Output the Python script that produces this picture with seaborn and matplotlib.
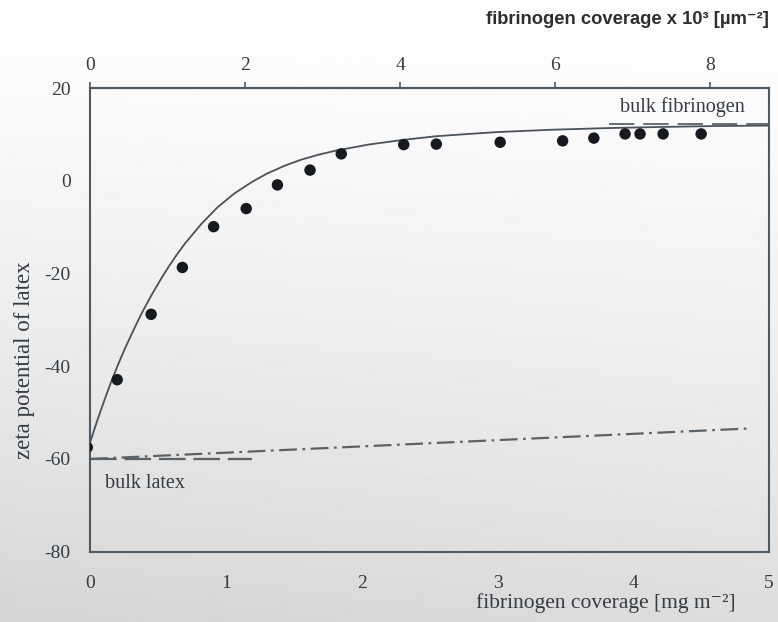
import numpy as np
import pandas as pd
import matplotlib
matplotlib.use('Agg')
import matplotlib.pyplot as plt
import seaborn as sns

sns.set_style('white')
plt.rcParams['font.family'] = ['Liberation Serif', 'DejaVu Serif']
plt.rcParams['axes.unicode_minus'] = False

# measured points: coverage [mg m-2] vs zeta potential [mV]
cov_pts = [-0.02, 0.20, 0.45, 0.68, 0.91, 1.15, 1.38, 1.62, 1.85, 2.31, 2.55,
           3.02, 3.48, 3.71, 3.94, 4.05, 4.22, 4.50]
zeta_pts = [-57.5, -42.9, -28.8, -18.7, -9.9, -6.0, -0.9, 2.3, 5.8, 7.8, 7.9,
            8.3, 8.6, 9.2, 10.1, 10.1, 10.1, 10.1]

# theoretical curve
cov_fit = [0.0, 0.05, 0.10, 0.15, 0.21, 0.26, 0.33, 0.38, 0.45, 0.52, 0.58,
           0.64, 0.70, 0.82, 0.94, 1.06, 1.19, 1.30, 1.43, 1.55, 1.68, 1.81,
           2.05, 2.30, 2.55, 2.79, 3.00, 3.40, 3.80, 4.20, 4.60, 5.0]
zeta_fit = [-56.5, -52.0, -47.8, -43.8, -39.4, -36.0, -31.6, -28.6, -24.8, -21.3,
            -18.5, -15.9, -13.5, -9.3, -5.7, -2.8, -0.3, 1.5, 3.2, 4.5, 5.6, 6.5,
            7.8, 8.8, 9.6, 10.1, 10.5, 11.0, 11.35, 11.6, 11.8, 11.9]

# bulk reference lines
latex_x = [0.0, 1.19]
latex_y = [-60.0, -60.0]
latex_trend_x = [0.0, 4.87]
latex_trend_y = [-60.0, -53.4]
fib_x = [3.82, 5.0]
fib_y = [12.2, 12.2]

xticks = [0, 1, 2, 3, 4, 5]
yticks = [-80, -60, -40, -20, 0, 20]
top_ticks = [0, 2, 4, 6, 8]
top_factor = 8 / 4.568   # 10^3 um^-2 per mg m^-2

pts = pd.DataFrame({'cov': cov_pts, 'zeta': zeta_pts})
fit = pd.DataFrame({'cov': cov_fit, 'zeta': zeta_fit})

fig = plt.figure(figsize=(7.78, 6.22), dpi=100)

# gradient background
bg = fig.add_axes([0, 0, 1, 1], zorder=-10)
gy = np.linspace(0, 1, 256)[:, None]
gx = np.linspace(0, 1, 256)[None, :]
grad = 0.995 - 0.16 * gy ** 1.3 + 0.03 * gx * gy
bg.imshow(grad, cmap='gray', vmin=0, vmax=1, aspect='auto', extent=[0, 1, 0, 1],
          origin='upper')
bg.axis('off')

ax = fig.add_axes([0.1157, 0.113, 0.8728, 0.7455])
ax.set_facecolor('none')

axis_col = '#4f5963'
text_col = '#343c44'

sns.lineplot(data=fit, x='cov', y='zeta', ax=ax, sort=False, estimator=None,
             color='#4a525a', lw=1.3)
sns.scatterplot(data=pts, x='cov', y='zeta', ax=ax, color='#161a1e', s=68,
                edgecolor='none', zorder=5)
ax.plot(latex_x, latex_y, color='#5a6268', lw=1.6, dashes=(12, 3.5))
ax.plot(latex_trend_x, latex_trend_y, color='#5a6268', lw=1.6,
        dashes=(8, 2.5, 1.2, 2.5))
ax.plot(fib_x, fib_y, color='#5a6268', lw=1.3, dashes=(14, 5))

ax.set_xlim(0, 5)
ax.set_ylim(-80, 20)
ax.set_xticks(xticks)
ax.set_yticks(yticks)
ax.set_xlabel('')
ax.set_ylabel('')

for sp in ax.spines.values():
    sp.set_color(axis_col)
    sp.set_linewidth(1.5)
ax.tick_params(axis='both', direction='out', length=4, width=1.2, color=axis_col,
               labelsize=14, labelcolor=text_col)
ax.tick_params(axis='x', pad=13)
ax.tick_params(axis='y', pad=10)

sec = ax.secondary_xaxis('top', functions=(lambda v: v * top_factor,
                                           lambda v: v / top_factor))
sec.set_xticks(top_ticks)
sec.tick_params(direction='out', length=4, width=1.2, color=axis_col,
                labelsize=14, labelcolor=text_col, pad=6)
sec.spines['top'].set_color(axis_col)
sec.spines['top'].set_linewidth(1.5)

ax.text(3.90, 15.8, 'bulk fibrinogen', fontsize=14.5, color=text_col,
        ha='left', va='center')
ax.text(0.11, -65.3, 'bulk latex', fontsize=14.5, color=text_col,
        ha='left', va='center')

fig.text(605.5 / 778, 1 - 603 / 622, 'fibrinogen coverage [mg m⁻²]',
         fontsize=15.5, color=text_col, ha='center', va='center')
fig.text(25 / 778, 1 - 360 / 622, 'zeta potential of latex', rotation=90,
         fontsize=16.5, color=text_col, ha='center', va='center')
fig.text(769 / 778, 1 - 20 / 622, 'fibrinogen coverage x 10³ [µm⁻²]',
         fontsize=13.2, fontweight='bold', color='#2e2e2e', ha='right',
         va='center', family=['Liberation Sans', 'DejaVu Sans'])

fig.savefig('out.png', dpi=100)
